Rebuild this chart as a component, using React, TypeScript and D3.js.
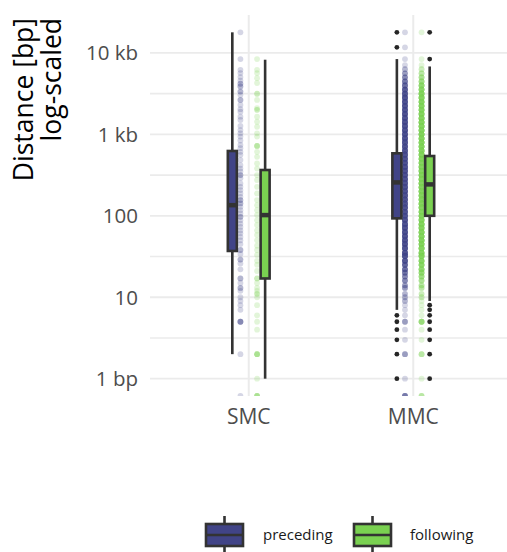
import React from "react";
import * as d3 from "d3";

// ---------- data ----------
const categories = ["SMC", "MMC"];
const groups = ["preceding", "following"];
const groupColors = ["#414487", "#7AD151"];

const yTickValues = [1, 10, 100, 1000, 10000];
const yTickLabels = ["1 bp", "10", "100", "1 kb", "10 kb"];

// box statistics: [lower whisker, Q1, median, Q3, upper whisker] (bp)
const smcPrecedingBox = [2, 37, 135, 625, 17900];
const smcFollowingBox = [1, 17, 102, 365, 8250];
const mmcPrecedingBox = [7, 93, 257, 585, 8400];
const mmcFollowingBox = [9, 100, 243, 542, 6820];

const smcPrecedingOutliers: number[] = [];
const smcFollowingOutliers: number[] = [];
const mmcPrecedingOutliers = [17900, 11700, 6, 5, 4, 3, 2, 1];
const mmcFollowingOutliers = [17900, 8400, 8, 7, 6, 5, 4, 3, 2, 1];

// individual distances (0 = zero distance, drawn at the panel floor)
const smcPrecedingPoints = [
  17900, 8400, 6200, 5650, 5050, 4580, 4180, 4180, 3870, 3870, 3350, 3350, 3060, 2650, 2650, 2300,
  2040, 1900, 1650, 1500, 1270, 1130, 1030, 940, 840, 740, 675, 610, 560, 485, 420, 380, 350,
  316, 316, 290, 250, 227, 207, 188, 171, 156, 156, 142, 142, 129, 117, 107, 97, 97, 88, 80,
  73, 66, 61, 55, 50, 45, 38, 38, 34, 29, 29, 26, 22, 17, 17, 15, 13, 13, 12, 10, 9, 8, 7,
  5, 5, 5, 5, 2, 0,
];
const smcFollowingPoints = [
  8400, 6200, 5650, 4900, 4260, 3150, 3150, 2650, 2100, 2000, 2000, 1650, 1430, 1240, 1030,
  940, 720, 720, 720, 610, 530, 440, 380, 316, 275, 227, 188, 156, 135, 117, 102, 88, 77, 66,
  58, 50, 43, 38, 33, 28, 25, 21, 17, 17, 15, 13, 12, 11, 11, 10, 8, 6, 5, 4, 2, 2, 2, 2, 1,
  0, 0, 0, 0,
];

// MMC: dense columns given as distance bins and point counts per bin
const mmcBinValues = [
  7080, 6310, 5620, 5010, 4470, 3980, 3550, 3160, 2820, 2510, 2240, 2000, 1780, 1580, 1410,
  1260, 1120, 1000, 891, 794, 708, 631, 562, 501, 447, 398, 355, 316, 282, 251, 224, 200, 178,
  158, 141, 126, 112, 100, 89, 79, 71, 63, 56, 50, 45, 40, 35, 32, 28, 25, 22, 20, 18, 16, 14,
  13, 11, 10,
];
const mmcPrecedingCounts = [
  1, 2, 3, 4, 5, 6, 8, 9, 10, 10, 10, 10, 10, 10, 10, 10, 10, 10, 10, 10, 10, 10, 10, 10, 10,
  10, 10, 10, 10, 10, 10, 10, 10, 10, 10, 10, 10, 10, 10, 10, 10, 10, 10, 10, 10, 10, 10, 10,
  9, 7, 6, 5, 4, 4, 3, 3, 2, 2,
];
const mmcFollowingCounts = [
  1, 2, 3, 4, 5, 7, 8, 9, 10, 10, 10, 10, 10, 10, 10, 10, 10, 10, 10, 10, 10, 10, 10, 10, 10,
  10, 10, 10, 10, 10, 10, 10, 10, 10, 10, 10, 10, 10, 10, 10, 10, 10, 10, 10, 10, 10, 10, 10,
  9, 8, 7, 6, 5, 4, 3, 3, 2, 2,
];
const mmcPrecedingExtra = [17900, 11700, 8400, 9, 9, 8, 7, 6, 5, 5, 5, 4, 3, 2, 2, 2, 1, 0, 0, 0, 0, 0];
const mmcFollowingExtra = [17900, 8400, 9, 8, 7, 6, 5, 5, 5, 5, 5, 5, 4, 3, 2, 2, 2, 1, 0, 0, 0];

// ---------- layout ----------
const W = 507;
const H = 552;
const panel = { left: 150, right: 512, top: 15, bottom: 396 };
const boxOffset = 16.4;
const pointOffset = 8.3;
const boxWidth = 9;
const pointRadius = 2.9;
const stroke = "#333333";
const font = "'Open Sans', 'Noto Sans', sans-serif";

function expandBins(values: number[], counts: number[]) {
  const out: number[] = [];
  values.forEach((v, i) => {
    for (let k = 0; k < counts[i]; k++) out.push(v);
  });
  return out;
}

const series = [
  { cat: "SMC", g: 0, box: smcPrecedingBox, outliers: smcPrecedingOutliers, points: smcPrecedingPoints },
  { cat: "SMC", g: 1, box: smcFollowingBox, outliers: smcFollowingOutliers, points: smcFollowingPoints },
  {
    cat: "MMC", g: 0, box: mmcPrecedingBox, outliers: mmcPrecedingOutliers,
    points: expandBins(mmcBinValues, mmcPrecedingCounts).concat(mmcPrecedingExtra),
  },
  {
    cat: "MMC", g: 1, box: mmcFollowingBox, outliers: mmcFollowingOutliers,
    points: expandBins(mmcBinValues, mmcFollowingCounts).concat(mmcFollowingExtra),
  },
];

export default function App() {
  const allFinite = series.flatMap((s) => s.points.concat(s.box, s.outliers)).filter((v) => v > 0);
  const lo = Math.log10(d3.min(allFinite) as number);
  const hi = Math.log10(d3.max(allFinite) as number);
  const pad = (hi - lo) * 0.05;
  const y = d3
    .scaleLog()
    .domain([Math.pow(10, lo - pad), Math.pow(10, hi + pad)])
    .range([panel.bottom, panel.top]);
  const yv = (v: number) => (v > 0 ? y(v) : panel.bottom);

  const x = d3.scalePoint<string>().domain(categories).range([panel.left, panel.right]).padding(0.6);
  const dir = (g: number) => (g === 0 ? -1 : 1);

  const minorTicks: number[] = [];
  for (let i = 0; i <= yTickValues.length; i++) {
    const a = i === 0 ? yTickValues[0] / 10 : yTickValues[i - 1];
    const b = i === yTickValues.length ? a * 10 : yTickValues[i];
    const m = Math.sqrt(a * b);
    const py = y(m);
    if (py >= panel.top && py <= panel.bottom) minorTicks.push(m);
  }

  const gridColor = "#ebebeb";

  const legendItems = [
    { key: 206, text: 263 },
    { key: 354, text: 410 },
  ];

  return (
    <svg width={W} height={H} style={{ position: "absolute", left: 0, top: 0, background: "#fff" }} fontFamily={font}>
      <defs>
        <clipPath id="panelClip">
          <rect x={panel.left} y={panel.top} width={panel.right - panel.left} height={panel.bottom - panel.top} />
        </clipPath>
      </defs>

      {/* grid */}
      <g>
        {minorTicks.map((t, i) => (
          <line key={"mn" + i} x1={panel.left} x2={panel.right} y1={y(t)} y2={y(t)} stroke={gridColor} strokeWidth={1.6} />
        ))}
        {yTickValues.map((t, i) => (
          <line key={"mj" + i} x1={panel.left} x2={panel.right} y1={y(t)} y2={y(t)} stroke={gridColor} strokeWidth={1.8} />
        ))}
        {categories.map((c) => (
          <line key={"vx" + c} x1={x(c)} x2={x(c)} y1={panel.top} y2={panel.bottom} stroke={gridColor} strokeWidth={2} />
        ))}
      </g>

      {/* points */}
      <g clipPath="url(#panelClip)">
        {series.map((s, si) =>
          s.points.map((v, i) => (
            <circle
              key={si + "-" + i}
              cx={(x(s.cat) as number) + dir(s.g) * pointOffset}
              cy={yv(v)}
              r={pointRadius}
              fill={groupColors[s.g]}
              fillOpacity={0.22}
            />
          ))
        )}
      </g>

      {/* boxplots */}
      <g clipPath="url(#panelClip)">
        {series.map((s, si) => {
          const bx = (x(s.cat) as number) + dir(s.g) * boxOffset;
          const [lw, q1, med, q3, uw] = s.box;
          return (
            <g key={"box" + si}>
              <line x1={bx} x2={bx} y1={y(uw)} y2={y(q3)} stroke={stroke} strokeWidth={2.6} />
              <line x1={bx} x2={bx} y1={y(q1)} y2={y(lw)} stroke={stroke} strokeWidth={2.6} />
              <rect
                x={bx - boxWidth / 2}
                y={y(q3)}
                width={boxWidth}
                height={y(q1) - y(q3)}
                fill={groupColors[s.g]}
                stroke={stroke}
                strokeWidth={2.6}
              />
              <line x1={bx - boxWidth / 2} x2={bx + boxWidth / 2} y1={y(med)} y2={y(med)} stroke={stroke} strokeWidth={4.5} />
              {s.outliers.map((o, i) => (
                <circle key={i} cx={bx} cy={yv(o)} r={2.4} fill="#262626" />
              ))}
            </g>
          );
        })}
      </g>

      {/* y axis labels */}
      {yTickValues.map((t, i) => (
        <text key={"yl" + i} x={138} y={y(t)} dy="0.36em" textAnchor="end" fontSize={20.5} fill="#4d4d4d">
          {yTickLabels[i]}
        </text>
      ))}

      {/* x axis labels */}
      {categories.map((c) => (
        <text key={"xl" + c} x={x(c)} y={424} textAnchor="middle" fontSize={21} fill="#4d4d4d">
          {c}
        </text>
      ))}

      {/* y title */}
      <text transform="rotate(-90)" x={-18} y={33} textAnchor="end" fontSize={26.5} fill="#000">
        Distance [bp]
      </text>
      <text transform="rotate(-90)" x={-18} y={61} textAnchor="end" fontSize={26.5} fill="#000">
        log-scaled
      </text>

      {/* legend */}
      {groups.map((g, i) => {
        const kx = legendItems[i].key;
        const kw = 37;
        const ky = 524;
        const kh = 22;
        return (
          <g key={"lg" + g}>
            <line x1={kx + kw / 2} x2={kx + kw / 2} y1={516} y2={552} stroke={stroke} strokeWidth={2.6} />
            <rect x={kx} y={ky} width={kw} height={kh} fill={groupColors[i]} stroke={stroke} strokeWidth={2.6} />
            <line x1={kx} x2={kx + kw} y1={ky + kh / 2} y2={ky + kh / 2} stroke={stroke} strokeWidth={2.6} />
            <text x={legendItems[i].text} y={ky + kh / 2} dy="0.35em" fontSize={15} fill="#1a1a1a">
              {g}
            </text>
          </g>
        );
      })}
    </svg>
  );
}
